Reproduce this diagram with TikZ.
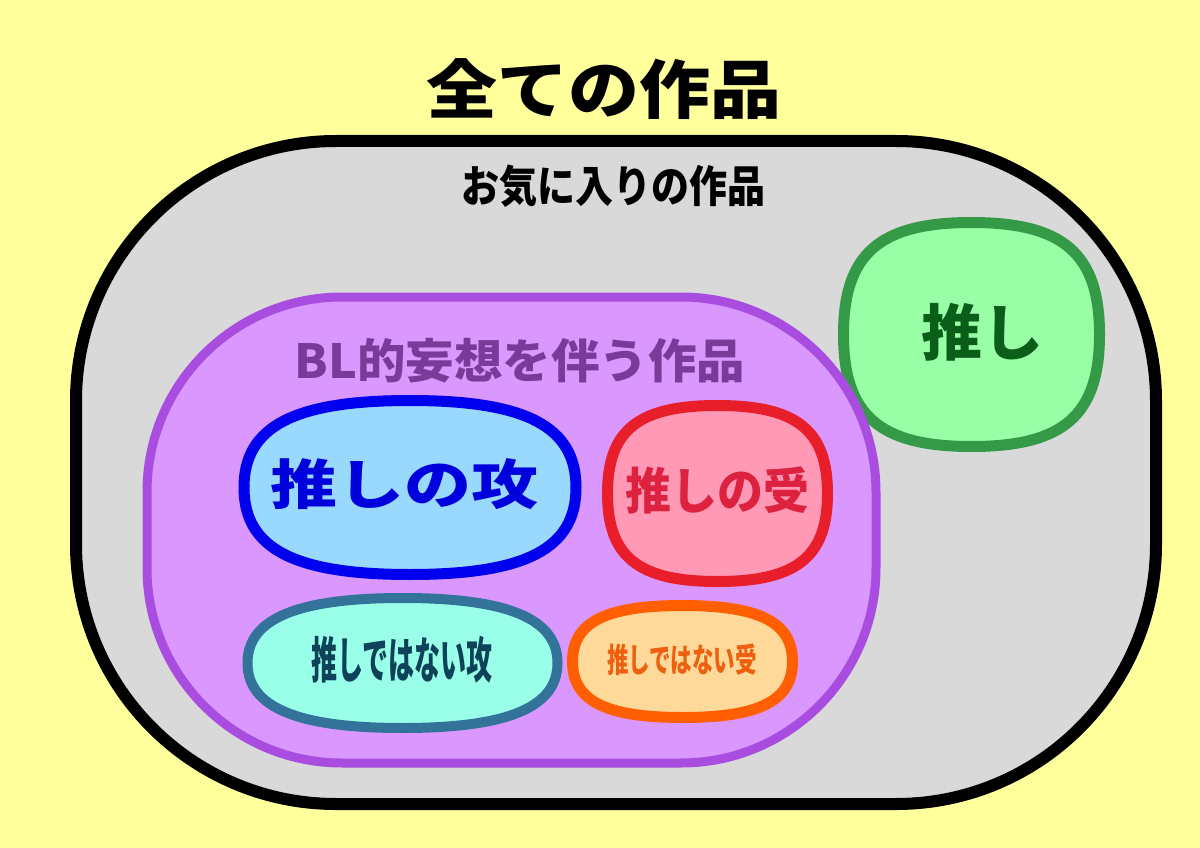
\documentclass[tikz,border=0pt]{standalone}
\usepackage{fontspec}
\usepackage{graphicx}
\newfontfamily\jp{Noto Sans CJK JP}
\usepackage{tikz}

\definecolor{bgyellow}{HTML}{FFFF9C}
\definecolor{setgray}{HTML}{D9D9D9}
\definecolor{blfill}{HTML}{DA97FD}
\definecolor{blline}{HTML}{A94DE0}
\definecolor{bltext}{HTML}{7A3A9A}
\definecolor{semefill}{HTML}{99D9FD}
\definecolor{semeline}{HTML}{0000EE}
\definecolor{semetext}{HTML}{0000DD}
\definecolor{ukefill}{HTML}{FF99B6}
\definecolor{ukeline}{HTML}{E81E2B}
\definecolor{uketext}{HTML}{DD2240}
\definecolor{osemefill}{HTML}{99FFE9}
\definecolor{osemeline}{HTML}{33739A}
\definecolor{osemetext}{HTML}{0E4258}
\definecolor{oukefill}{HTML}{FFD999}
\definecolor{oukeline}{HTML}{FF5F00}
\definecolor{ouketext}{HTML}{EE6010}
\definecolor{oshifill}{HTML}{99FFA6}
\definecolor{oshiline}{HTML}{349A47}
\definecolor{oshitext}{HTML}{0B5E1A}

% squircle: centre x, centre y, radius x, radius y, control factor
\newcommand{\blob}[5]{(#1+#3,#2) .. controls (#1+#3,#2-#5*#4) and (#1+#5*#3,#2-#4) .. (#1,#2-#4)
  .. controls (#1-#5*#3,#2-#4) and (#1-#3,#2-#5*#4) .. (#1-#3,#2)
  .. controls (#1-#3,#2+#5*#4) and (#1-#5*#3,#2+#4) .. (#1,#2+#4)
  .. controls (#1+#5*#3,#2+#4) and (#1+#3,#2+#5*#4) .. (#1+#3,#2) -- cycle}

\begin{document}
\begin{tikzpicture}[x=1pt, y=-1pt,
    lbl/.style={font=\jp\bfseries\fontsize{#1}{#1}\selectfont, inner sep=0pt},
    setline/.style={line width=#1, line join=round}]
\fill[bgyellow] (0,0) rectangle (1200,848);
\useasboundingbox (0,0) rectangle (1200,848);

\node[lbl=71] (all) at (604,89) {\scalebox{1}[0.9]{全ての作品}};

\draw[setline=12pt, fill=setgray, rounded corners=260pt] (76,141) rectangle (1156,804);
\node[lbl=38] (fav) at (613,186) {\scalebox{1}[1.15]{お気に入りの作品}};

\draw[setline=11pt, draw=oshiline, fill=oshifill] \blob{971.5}{334.5}{128}{112}{0.72};
\node[lbl=61, text=oshitext] (oshi) at (982,332) {推し};

\draw[setline=9pt, draw=blline, fill=blfill, rounded corners=195pt] (147,297) rectangle (876,763);
\node[lbl=48.5, text=bltext] (bl) at (520,361) {\scalebox{1}[0.97]{BL的妄想を伴う作品}};

\draw[setline=11pt, draw=semeline, fill=semefill] \blob{410}{487.5}{166}{87}{0.7};
\node[lbl=67, text=semetext] (seme) at (404,484) {\scalebox{1}[0.8]{推しの攻}};

\draw[setline=11pt, draw=ukeline, fill=ukefill] \blob{717.5}{493.5}{110}{88}{0.72};
\node[lbl=46, text=uketext] (uke) at (717,490) {\scalebox{1}[1.08]{推しの受}};

\draw[setline=10pt, draw=osemeline, fill=osemefill] \blob{402.5}{663}{155}{65}{0.68};
\node[lbl=26, text=osemetext] (oseme) at (402,660) {\scalebox{1}[1.9]{推しではない攻}};

\draw[setline=11pt, draw=oukeline, fill=oukefill] \blob{682.5}{661.5}{110}{56}{0.7};
\node[lbl=21.5, text=ouketext] (ouke) at (682,660) {\scalebox{1}[1.55]{推しではない受}};
\end{tikzpicture}
\end{document}
